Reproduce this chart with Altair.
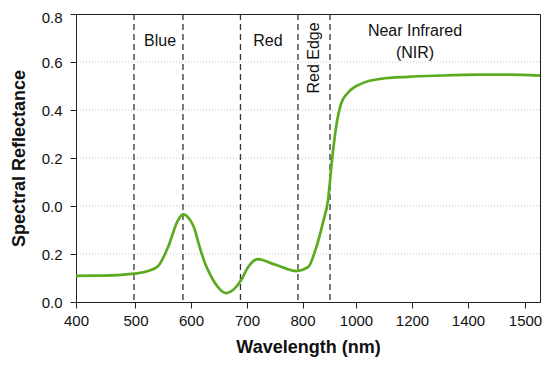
import json
import altair as alt
import pandas as pd

# Curve (x in axis-position units)
wavelength_pos = [400, 439.2, 474.8, 503.3, 528.3, 546.1, 563.9, 581.7, 590.6, 599.6,
                  612.0, 617.4, 629.8, 635.2, 653.0, 667.3, 683.3, 694.0, 706.5, 724.3,
                  747.4, 772.4, 792.0, 813.4, 827.6, 840.1, 849.0, 856.1, 863.3, 872.2,
                  884.6, 907.8, 943.4, 991.5, 1045.0, 1116.3, 1169.7, 1226.7]
reflectance = [0.109, 0.110, 0.112, 0.118, 0.129, 0.149, 0.228, 0.340, 0.365, 0.353,
               0.299, 0.253, 0.162, 0.133, 0.062, 0.037, 0.058, 0.091, 0.145, 0.179,
               0.162, 0.141, 0.129, 0.145, 0.224, 0.332, 0.424, 0.590, 0.727, 0.826,
               0.872, 0.909, 0.930, 0.938, 0.943, 0.947, 0.947, 0.943]

# Axis ticks (positions as read) and their printed labels
x_tick_values = [400, 506.0, 604.9, 704.7, 803.6, 898.9, 998.7, 1098.4, 1200]
x_tick_labels = ["400", "500", "600", "700", "800", "1000", "1200", "1400", "1500"]
y_tick_values = [0.0, 0.2, 0.4, 0.6, 0.8, 1.0, 1.2]
y_tick_labels = ["0.0", "0.2", "0.0", "0.2", "0.4", "0.6", "0.8"]
grid_values = [0.2, 0.4, 0.6, 0.8, 1.0]

# Band boundaries (dashed lines)
boundaries = [503.3, 590.6, 693.0, 795.5, 852.6]

# Band labels
band_text = ["Blue", "Red", "Near Infrared", "(NIR)"]
band_x = [549.7, 742.0, 1004.0, 1004.0]
band_y = [1.088, 1.088, 1.129, 1.038]
rot_text = ["Red Edge"]
rot_x = [824.0]
rot_y = [1.017]

FONT = "Liberation Sans"
XDOM = [400, 1226.7]
YDOM = [0, 1.2]

curve_df = pd.DataFrame({"x": wavelength_pos, "y": reflectance})
bound_df = pd.DataFrame({"x": boundaries})
grid_df = pd.DataFrame({"y": grid_values})
text_df = pd.DataFrame({"x": band_x, "y": band_y, "t": band_text})
rot_df = pd.DataFrame({"x": rot_x, "y": rot_y, "t": rot_text})

x_label_expr = f"{json.dumps(x_tick_labels)}[indexof({json.dumps(x_tick_values)}, datum.value)]"
y_label_expr = f"{json.dumps(y_tick_labels)}[round(datum.value / 0.2)]"

xscale = alt.Scale(domain=XDOM, nice=False, zero=False)
yscale = alt.Scale(domain=YDOM, nice=False, zero=False)

xaxis = alt.Axis(values=x_tick_values, labelExpr=x_label_expr, grid=False,
                 title="Wavelength (nm)", titleFontSize=18, titleFontWeight="bold",
                 titleFont=FONT, labelFont=FONT, labelFontSize=15, labelColor="#111",
                 tickSize=6, tickColor="#222", domainColor="#222", labelPadding=5,
                 titlePadding=10, titleColor="#111", labelFlush=False)
yaxis = alt.Axis(values=y_tick_values, labelExpr=y_label_expr, grid=False,
                 title="Spectral Reflectance", titleFontSize=18, titleFontWeight="bold",
                 titleFont=FONT, labelFont=FONT, labelFontSize=15, labelColor="#111",
                 tickSize=6, tickColor="#222", domainColor="#222", labelPadding=8,
                 labelOffset={"condition": {"test": "datum.value >= 1.2", "value": 3},
                              "value": 0},
                 titlePadding=13, titleColor="#111", labelFlush=False)

grid = alt.Chart(grid_df).mark_rule(
    color="#c4c4c4", strokeWidth=1, strokeDash=[1, 2]
).encode(
    y=alt.Y("y:Q", scale=yscale, axis=yaxis),
)

rules = alt.Chart(bound_df).mark_rule(
    color="#333", strokeWidth=1.3, strokeDash=[6, 4]
).encode(
    x=alt.X("x:Q", scale=xscale, axis=xaxis),
)

curve = alt.Chart(curve_df).mark_line(
    color="#5BAA1F", strokeWidth=2.7, interpolate="monotone"
).encode(
    x=alt.X("x:Q", scale=xscale, axis=xaxis),
    y=alt.Y("y:Q", scale=yscale, axis=yaxis),
)

texts = alt.Chart(text_df).mark_text(
    font=FONT, fontSize=16, color="#111", align="center", baseline="middle"
).encode(
    x=alt.X("x:Q", scale=xscale),
    y=alt.Y("y:Q", scale=yscale),
    text="t:N",
)

rot_texts = alt.Chart(rot_df).mark_text(
    font=FONT, fontSize=16, color="#111", align="center", baseline="middle", angle=270
).encode(
    x=alt.X("x:Q", scale=xscale),
    y=alt.Y("y:Q", scale=yscale),
    text="t:N",
)

chart = alt.layer(grid, rules, curve, texts, rot_texts).properties(
    width=464, height=288,
    autosize=alt.AutoSizeParams(type="none"),
    padding={"left": 68, "top": 6, "right": 2, "bottom": 58},
    background="white",
).configure_view(stroke="#222", strokeWidth=1)

chart.save("out.html", embed_options={"renderer": "svg", "actions": False})
